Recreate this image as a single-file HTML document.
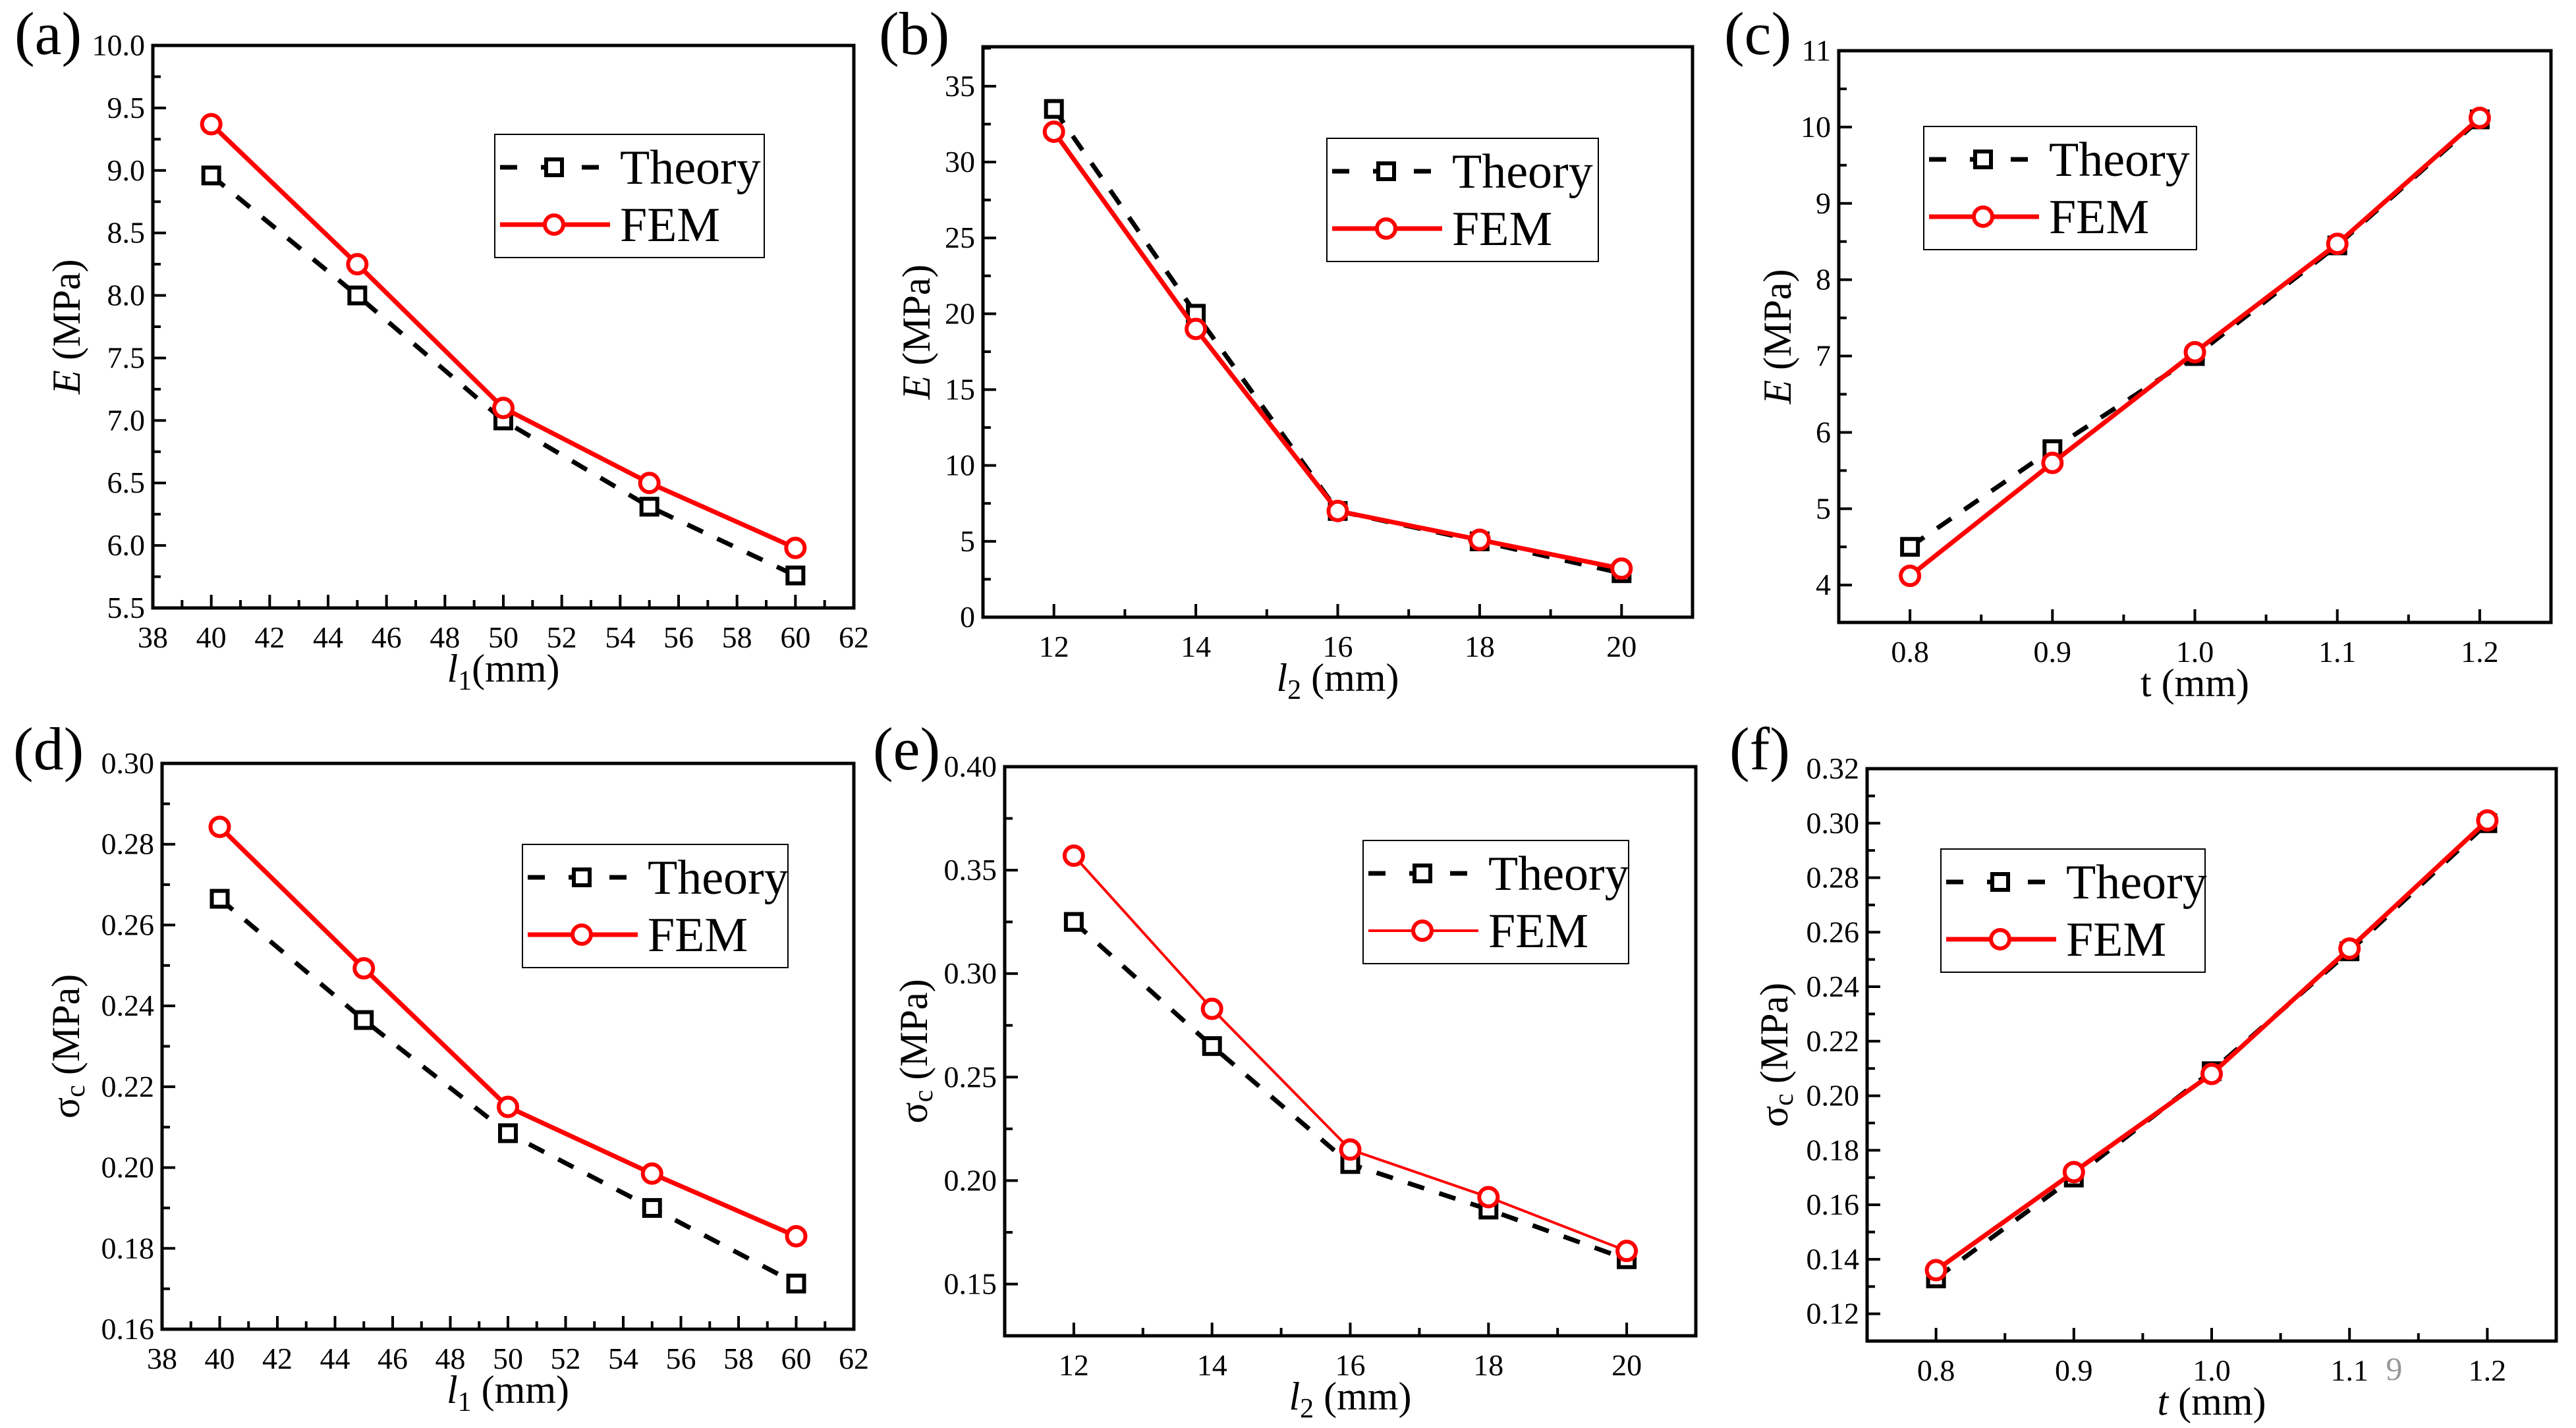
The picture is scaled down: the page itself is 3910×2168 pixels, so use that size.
<!DOCTYPE html>
<html><head><meta charset="utf-8"><style>
html,body{margin:0;padding:0;background:#fff;}
svg{display:block;}
svg text{font-family:"Liberation Serif","Times New Roman",serif;}
</style></head><body>
<svg id="fig" width="3910" height="2168" viewBox="0 0 3910 2168" xmlns="http://www.w3.org/2000/svg" font-family="Liberation Serif, serif"></svg>
<script>
// ---- data ----
const xA = [40,45,50,55,60];
const theoryA = [8.96,8.0,7.0,6.31,5.76];
const femA = [9.37,8.25,7.1,6.5,5.98];
const xB = [12,14,16,18,20];
const theoryB = [33.5,20,7,5,2.9];
const femB = [32,19,7,5.1,3.2];
const xC = [0.8,0.9,1.0,1.1,1.2];
const theoryC = [4.5,5.78,7.0,8.45,10.1];
const femC = [4.12,5.6,7.05,8.47,10.12];
const xD = [40,45,50,55,60];
const theoryD = [0.2665,0.2365,0.2085,0.19,0.1713];
const femD = [0.2843,0.2493,0.215,0.1985,0.183];
const xE = [12,14,16,18,20];
const theoryE = [0.325,0.265,0.208,0.186,0.162];
const femE = [0.357,0.283,0.215,0.192,0.166];
const xF = [0.8,0.9,1.0,1.1,1.2];
const theoryF = [0.133,0.170,0.209,0.253,0.300];
const femF = [0.136,0.172,0.208,0.254,0.301];
// tick labels
const xTicksA = [38,40,42,44,46,48,50,52,54,56,58,60,62];
const yTicksA = [5.5,6.0,6.5,7.0,7.5,8.0,8.5,9.0,9.5,10.0];
const xTicksB = [12,14,16,18,20];
const yTicksB = [0,5,10,15,20,25,30,35];
const xTicksC = [0.8,0.9,1.0,1.1,1.2];
const yTicksC = [4,5,6,7,8,9,10,11];
const yTicksD = [0.16,0.18,0.20,0.22,0.24,0.26,0.28,0.30];
const yTicksE = [0.15,0.20,0.25,0.30,0.35,0.40];
const yTicksF = [0.12,0.14,0.16,0.18,0.20,0.22,0.24,0.26,0.28,0.30,0.32];

const NS="http://www.w3.org/2000/svg";
const svg=document.getElementById('fig');
const FF='Liberation Serif, Times New Roman, serif';
function mk(tag,attrs,parent){const e=document.createElementNS(NS,tag);for(const k in attrs)e.setAttribute(k,attrs[k]);if(tag==='text')e.setAttribute('font-family',attrs['font-family']||FF);(parent||svg).appendChild(e);return e;}

function panel(p){
  const g=mk('g',{});
  
  
  const sx=v=>p.L+(v-p.x0)/(p.x1-p.x0)*(p.R-p.L);
  const sy=v=>p.B-(v-p.y0)/(p.y1-p.y0)*(p.B-p.T);
  const tg=mk('g',{stroke:'#000','stroke-width':4},g);
  
  
  for(let v=p.xMinorStart; v<=p.x1+1e-9; v+=p.xMinor){
    const major=Math.abs(Math.round((v-p.xMajorBase)/p.xMajor)*p.xMajor-(v-p.xMajorBase))<1e-6;
    const x=sx(v); const len=major?20:12;
    mk('line',{x1:x,y1:p.B,x2:x,y2:p.B-len},tg);
  }
  for(let v=p.yMinorStart; v<=p.y1+1e-9; v+=p.yMinor){
    const major=Math.abs(Math.round((v-p.yMajorBase)/p.yMajor)*p.yMajor-(v-p.yMajorBase))<1e-6;
    const y=sy(v); const len=major?20:12;
    mk('line',{x1:p.L,y1:y,x2:p.L+len,y2:y},tg);
  }
  p.xTicks.forEach(v=>{const t=mk('text',{x:sx(v),y:p.B+60,'font-size':46,'text-anchor':'middle'},g);t.textContent=v.toFixed(p.xDec);
    });
  p.yTicks.forEach(v=>{const t=mk('text',{x:p.L-12,y:sy(v)+15,'font-size':46,'text-anchor':'end'},g);t.textContent=v.toFixed(p.yDec);
    });
  const thPts=p.x.map((v,i)=>sx(v)+','+sy(p.th[i])).join(' ');
  const fePts=p.x.map((v,i)=>sx(v)+','+sy(p.fe[i])).join(' ');
  const tl=mk('polyline',{points:thPts,fill:'none',stroke:'#000','stroke-width':7,'stroke-dasharray':'26,24'},g);
  
  p.x.forEach((v,i)=>{const r=mk('rect',{x:sx(v)-12,y:sy(p.th[i])-12,width:24,height:24,fill:'#fff',stroke:'#000','stroke-width':6},g);
    });
  const fl=mk('polyline',{points:fePts,fill:'none',stroke:'#f00','stroke-width':p.thin?4:7},g);
  
  p.x.forEach((v,i)=>{const c=mk('circle',{cx:sx(v),cy:sy(p.fe[i]),r:14,fill:'#fff',stroke:'#f00','stroke-width':6},g);
    });
  const fr=mk('rect',{x:p.L,y:p.T,width:p.R-p.L,height:p.B-p.T,fill:'none',stroke:'#000','stroke-width':5},g);
  
  const lg=mk('g',{},g);
  
  mk('rect',{x:p.lx,y:p.ly,width:p.lw,height:187,fill:'#fff',stroke:'#000','stroke-width':2},lg);
  const r1=p.ly+50, r2=p.ly+137, mx=p.lx+90;
  mk('line',{x1:p.lx+8,y1:r1,x2:p.lx+175,y2:r1,stroke:'#000','stroke-width':7,'stroke-dasharray':'26,36'},lg);
  mk('rect',{x:mx-12,y:r1-12,width:24,height:24,fill:'#fff',stroke:'#000','stroke-width':6},lg);
  mk('line',{x1:p.lx+8,y1:r2,x2:p.lx+175,y2:r2,stroke:'#f00','stroke-width':p.thin?4:7},lg);
  mk('circle',{cx:mx,cy:r2,r:14,fill:'#fff',stroke:'#f00','stroke-width':6},lg);
  const t1=mk('text',{x:p.lx+190,y:r1+25,'font-size':74},lg);t1.textContent='Theory';
  
  const t2=mk('text',{x:p.lx+190,y:r2+25,'font-size':74},lg);t2.textContent='FEM';
  
  const pl=mk('text',{x:p.labX,y:p.labY,'font-size':92},g);pl.textContent='('+p.id+')';
  
  const xt=mk('text',{x:(p.L+p.R)/2,y:p.B+112,'font-size':60,'text-anchor':'middle'},g);
  xt.innerHTML=p.xTitle;
  
  const cy=(p.T+p.B)/2, cx=p.L-p.yOff;
  const yt=mk('text',{x:cx,y:cy,'font-size':60,'text-anchor':'middle',transform:'rotate(-90 '+cx+' '+cy+')','dominant-baseline':'middle'},g);
  yt.innerHTML=p.yTitle;
  
}
const ET='<tspan font-style="italic">E</tspan> (MPa)';
const ST='σ<tspan font-size="42" dy="12">c</tspan><tspan dy="-12"> (MPa)</tspan>';
const L1a='<tspan font-style="italic">l</tspan><tspan font-size="42" dy="12">1</tspan><tspan dy="-12">(mm)</tspan>';
const L1='<tspan font-style="italic">l</tspan><tspan font-size="42" dy="12">1</tspan><tspan dy="-12"> (mm)</tspan>';
const L2='<tspan font-style="italic">l</tspan><tspan font-size="42" dy="12">2</tspan><tspan dy="-12"> (mm)</tspan>';

panel({id:'a',L:232,R:1296,T:69,B:923,x0:38,x1:62,y0:5.5,y1:10.0,x:xA,th:theoryA,fe:femA,
  xTicks:xTicksA,yTicks:yTicksA,xDec:0,yDec:1,xMinorStart:38,xMinor:1,xMajor:2,xMajorBase:38,yMinorStart:5.5,yMinor:0.25,yMajor:0.5,yMajorBase:5.5,
  lx:751,ly:204,lw:409,labX:22,labY:82,xTitle:L1a,yTitle:ET,yOff:125});
panel({id:'b',L:1492,R:2569,T:71,B:937,x0:11,x1:21,y0:0,y1:37.6,x:xB,th:theoryB,fe:femB,
  xTicks:xTicksB,yTicks:yTicksB,xDec:0,yDec:0,xMinorStart:12,xMinor:1,xMajor:2,xMajorBase:12,yMinorStart:0,yMinor:2.5,yMajor:5,yMajorBase:0,
  lx:2014,ly:210,lw:412,labX:1334,labY:82,xTitle:L2,yTitle:ET,yOff:95});
panel({id:'c',L:2791,R:3872,T:77,B:945,x0:0.75,x1:1.25,y0:3.51,y1:11,x:xC,th:theoryC,fe:femC,
  xTicks:xTicksC,yTicks:yTicksC,xDec:1,yDec:0,xMinorStart:0.8,xMinor:0.05,xMajor:0.1,xMajorBase:0.8,yMinorStart:4,yMinor:0.5,yMajor:1,yMajorBase:4,
  lx:2920,ly:192,lw:414,labX:2617,labY:82,xTitle:'t (mm)',yTitle:ET,yOff:87});
panel({id:'d',L:246,R:1296,T:1159,B:2018,x0:38,x1:62,y0:0.16,y1:0.30,x:xD,th:theoryD,fe:femD,
  xTicks:xTicksA,yTicks:yTicksD,xDec:0,yDec:2,xMinorStart:38,xMinor:1,xMajor:2,xMajorBase:38,yMinorStart:0.16,yMinor:0.01,yMajor:0.02,yMajorBase:0.16,
  lx:793,ly:1282,lw:403,labX:20,labY:1168,xTitle:L1,yTitle:ST,yOff:140});
panel({id:'e',L:1525,R:2574,T:1164,B:2028,x0:11,x1:21,y0:0.125,y1:0.40,x:xE,th:theoryE,fe:femE,thin:true,
  xTicks:xTicksB,yTicks:yTicksE,xDec:0,yDec:2,xMinorStart:12,xMinor:1,xMajor:2,xMajorBase:12,yMinorStart:0.15,yMinor:0.025,yMajor:0.05,yMajorBase:0.15,
  lx:2069,ly:1276,lw:403,labX:1325,labY:1168,xTitle:L2,yTitle:ST,yOff:132});
panel({id:'f',L:2834,R:3880,T:1167,B:2036,x0:0.75,x1:1.25,y0:0.11,y1:0.32,x:xF,th:theoryF,fe:femF,
  xTicks:xTicksC,yTicks:yTicksF,xDec:1,yDec:2,xMinorStart:0.8,xMinor:0.05,xMajor:0.1,xMajorBase:0.8,yMinorStart:0.12,yMinor:0.01,yMajor:0.02,yMajorBase:0.12,
  lx:2946,ly:1289,lw:401,labX:2625,labY:1168,xTitle:'<tspan font-style="italic">t</tspan> (mm)',yTitle:ST,yOff:135});
const pg=mk('text',{x:3634,y:2095,'font-size':50,fill:'#999','font-family':'Liberation Sans, sans-serif','text-anchor':'middle'});
pg.textContent='9';


</script>
</body></html>
